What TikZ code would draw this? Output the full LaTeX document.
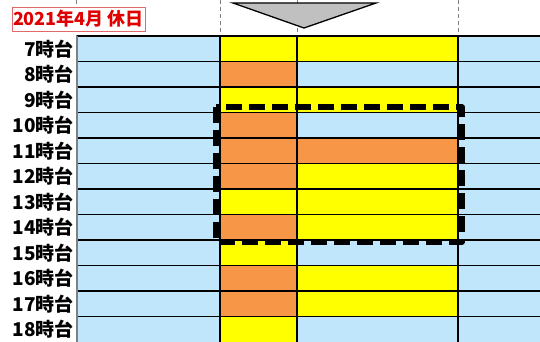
\documentclass[tikz,border=0pt]{standalone}
\usepackage{fontspec}
\newfontfamily\jpfont{Noto Sans CJK JP}
\usetikzlibrary{calc}
\definecolor{kyuBlue}{HTML}{BFE6FB}
\definecolor{kyuYellow}{HTML}{FFFF00}
\definecolor{kyuOrange}{HTML}{F79646}
\definecolor{kyuRed}{HTML}{E00000}
\definecolor{kyuPink}{HTML}{E06A6A}
\definecolor{kyuGray}{HTML}{C0C0C0}
\tikzset{
	guide/.style={gray, line width=0.9, dash pattern=on 4 off 3},
	gridline/.style={line width=1.3, black},
	hourlabel/.style={anchor=east, inner sep=0, font=\jpfont\bfseries\fontsize{19}{19}\selectfont},
}

\begin{document}
\begin{tikzpicture}[x=1pt, y=-1pt]
		%%%%% START %%%%%
		\useasboundingbox[fill=white] (0, 0) rectangle (540, 342);
		
		\draw[guide] (76, 0) -- (76, 36);
		\draw[guide] (220, 0) -- (220, 36);
		\draw[guide] (297, 0) -- (297, 36);
		\draw[guide] (458, 0) -- (458, 36);
		
		\node[draw=kyuPink, fill=white, text=kyuRed, line width=0.8, inner sep=0,
			minimum width=133, minimum height=24, font=\jpfont\bfseries\fontsize{18}{18}\selectfont]
			(title) at (78.5, 19) {2021年4月 休日};
		
		\draw[fill=kyuGray, line width=1.3] (233, 3) -- (376, 3) -- (304, 28) -- cycle;
		
		% hour / column A / column B
		\foreach \h/\ca/\cb [count=\i from 0] in {
				7/kyuYellow/kyuYellow, 8/kyuOrange/kyuBlue, 9/kyuYellow/kyuYellow,
				10/kyuOrange/kyuBlue, 11/kyuOrange/kyuOrange, 12/kyuOrange/kyuYellow,
				13/kyuYellow/kyuYellow, 14/kyuOrange/kyuYellow, 15/kyuYellow/kyuBlue,
				16/kyuOrange/kyuYellow, 17/kyuOrange/kyuYellow, 18/kyuYellow/kyuBlue} {
			\pgfmathsetmacro\ytop{36 + 25.5*\i}
			\fill[kyuBlue] (77, \ytop) rectangle (220, \ytop + 25.5);
			\fill[\ca] (220, \ytop) rectangle (297, \ytop + 25.5);
			\fill[\cb] (297, \ytop) rectangle (458, \ytop + 25.5);
			\fill[kyuBlue] (458, \ytop) rectangle (540, \ytop + 25.5);
			\draw[gridline] (77, \ytop) -- (540, \ytop);
			\node[hourlabel] (hour\h) at (74, \ytop + 13) {\h 時台};
		}
		
		\draw[gridline, gray] (77, 36) -- (77, 342);
		\draw[gridline] (220, 36) -- (220, 342);
		\draw[gridline] (297, 36) -- (297, 342);
		\draw[gridline] (458, 36) -- (458, 342);
		
		\draw[line width=5.5, dash pattern=on 16 off 7, line join=round] (216, 107) rectangle (462, 242);
		
		%%%%% END %%%%%
\end{tikzpicture}
\end{document}
